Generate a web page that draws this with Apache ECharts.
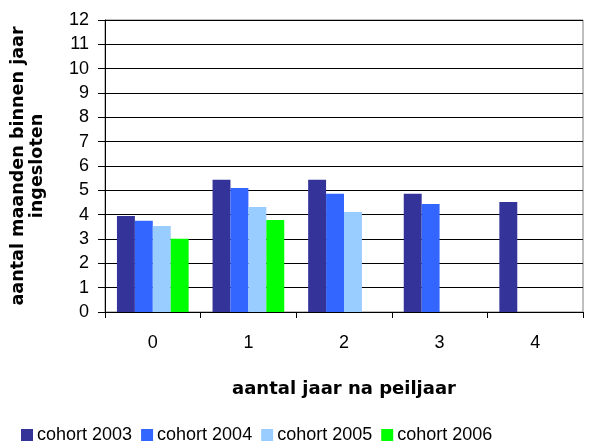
<!DOCTYPE html>
<html>
<head>
<meta charset="utf-8">
<script src="https://cdn.jsdelivr.net/npm/echarts@6/dist/echarts.min.js"></script>
<style>
  html, body { margin: 0; padding: 0; background: #fff; }
  #chart { width: 592px; height: 448px; }
</style>
</head>
<body>
<div id="chart"></div>
<script>
const categories = ["0", "1", "2", "3", "4"];
const seriesNames = ["cohort 2003", "cohort 2004", "cohort 2005", "cohort 2006"];
const cohort2003 = [3.95, 5.43, 5.43, 4.86, 4.52];
const cohort2004 = [3.75, 5.1, 4.86, 4.44, null];
const cohort2005 = [3.53, 4.32, 4.11, null, null];
const cohort2006 = [3.01, 3.78, null, null, null];
const colors = ["#333399", "#3366ff", "#99ccff", "#00ff00"];

const font = "Liberation Sans, Arial, sans-serif";
const titleFont = "DejaVu Sans, Liberation Sans, sans-serif";
const chart = echarts.init(document.getElementById("chart"), null, { renderer: "canvas" });

const values = [cohort2003, cohort2004, cohort2005, cohort2006];
const series = seriesNames.map((name, i) => ({
  name,
  type: "bar",
  barGap: "0%",
  barCategoryGap: "25%",
  itemStyle: { color: colors[i] },
  data: values[i],
}));

chart.setOption({
  animation: false,
  backgroundColor: "#fff",
  textStyle: { fontFamily: font },
  grid: {
    left: 105, right: 9, top: 20, bottom: 136,
    outerBoundsMode: "none",
    containLabel: false,
    show: true, borderColor: "#808080", borderWidth: 1,
  },
  legend: {
    bottom: -1,
    left: 16,
    itemWidth: 12,
    itemHeight: 12,
    itemGap: 9,
    icon: "rect",
    textStyle: { fontFamily: font, fontSize: 18, color: "#000", padding: [0, 0, 0, -1] },
    data: seriesNames,
  },
  xAxis: {
    type: "category",
    data: categories,
    name: "aantal jaar na peiljaar",
    nameLocation: "middle",
    nameGap: 68,
    nameTextStyle: { fontFamily: titleFont, fontSize: 18, fontWeight: "bold", color: "#000" },
    axisLine: { lineStyle: { color: "#000" } },
    axisTick: { show: true, length: 6, lineStyle: { color: "#000" } },
    axisLabel: { fontFamily: font, fontSize: 18, color: "#000", margin: 22 },
  },
  yAxis: {
    type: "value",
    min: 0,
    max: 12,
    interval: 1,
    name: "aantal maanden binnen jaar\ningesloten",
    nameLocation: "middle",
    nameGap: 58,
    nameTextStyle: { fontFamily: titleFont, fontSize: 17.6, fontWeight: "bold", color: "#000", lineHeight: 19 },
    axisLine: { show: true, lineStyle: { color: "#000" } },
    axisTick: { show: true, length: 7, lineStyle: { color: "#000" } },
    axisLabel: { fontFamily: font, fontSize: 18, color: "#000", margin: 16 },
    splitLine: { lineStyle: { color: "#000" } },
  },
  series,
});
</script>
</body>
</html>
